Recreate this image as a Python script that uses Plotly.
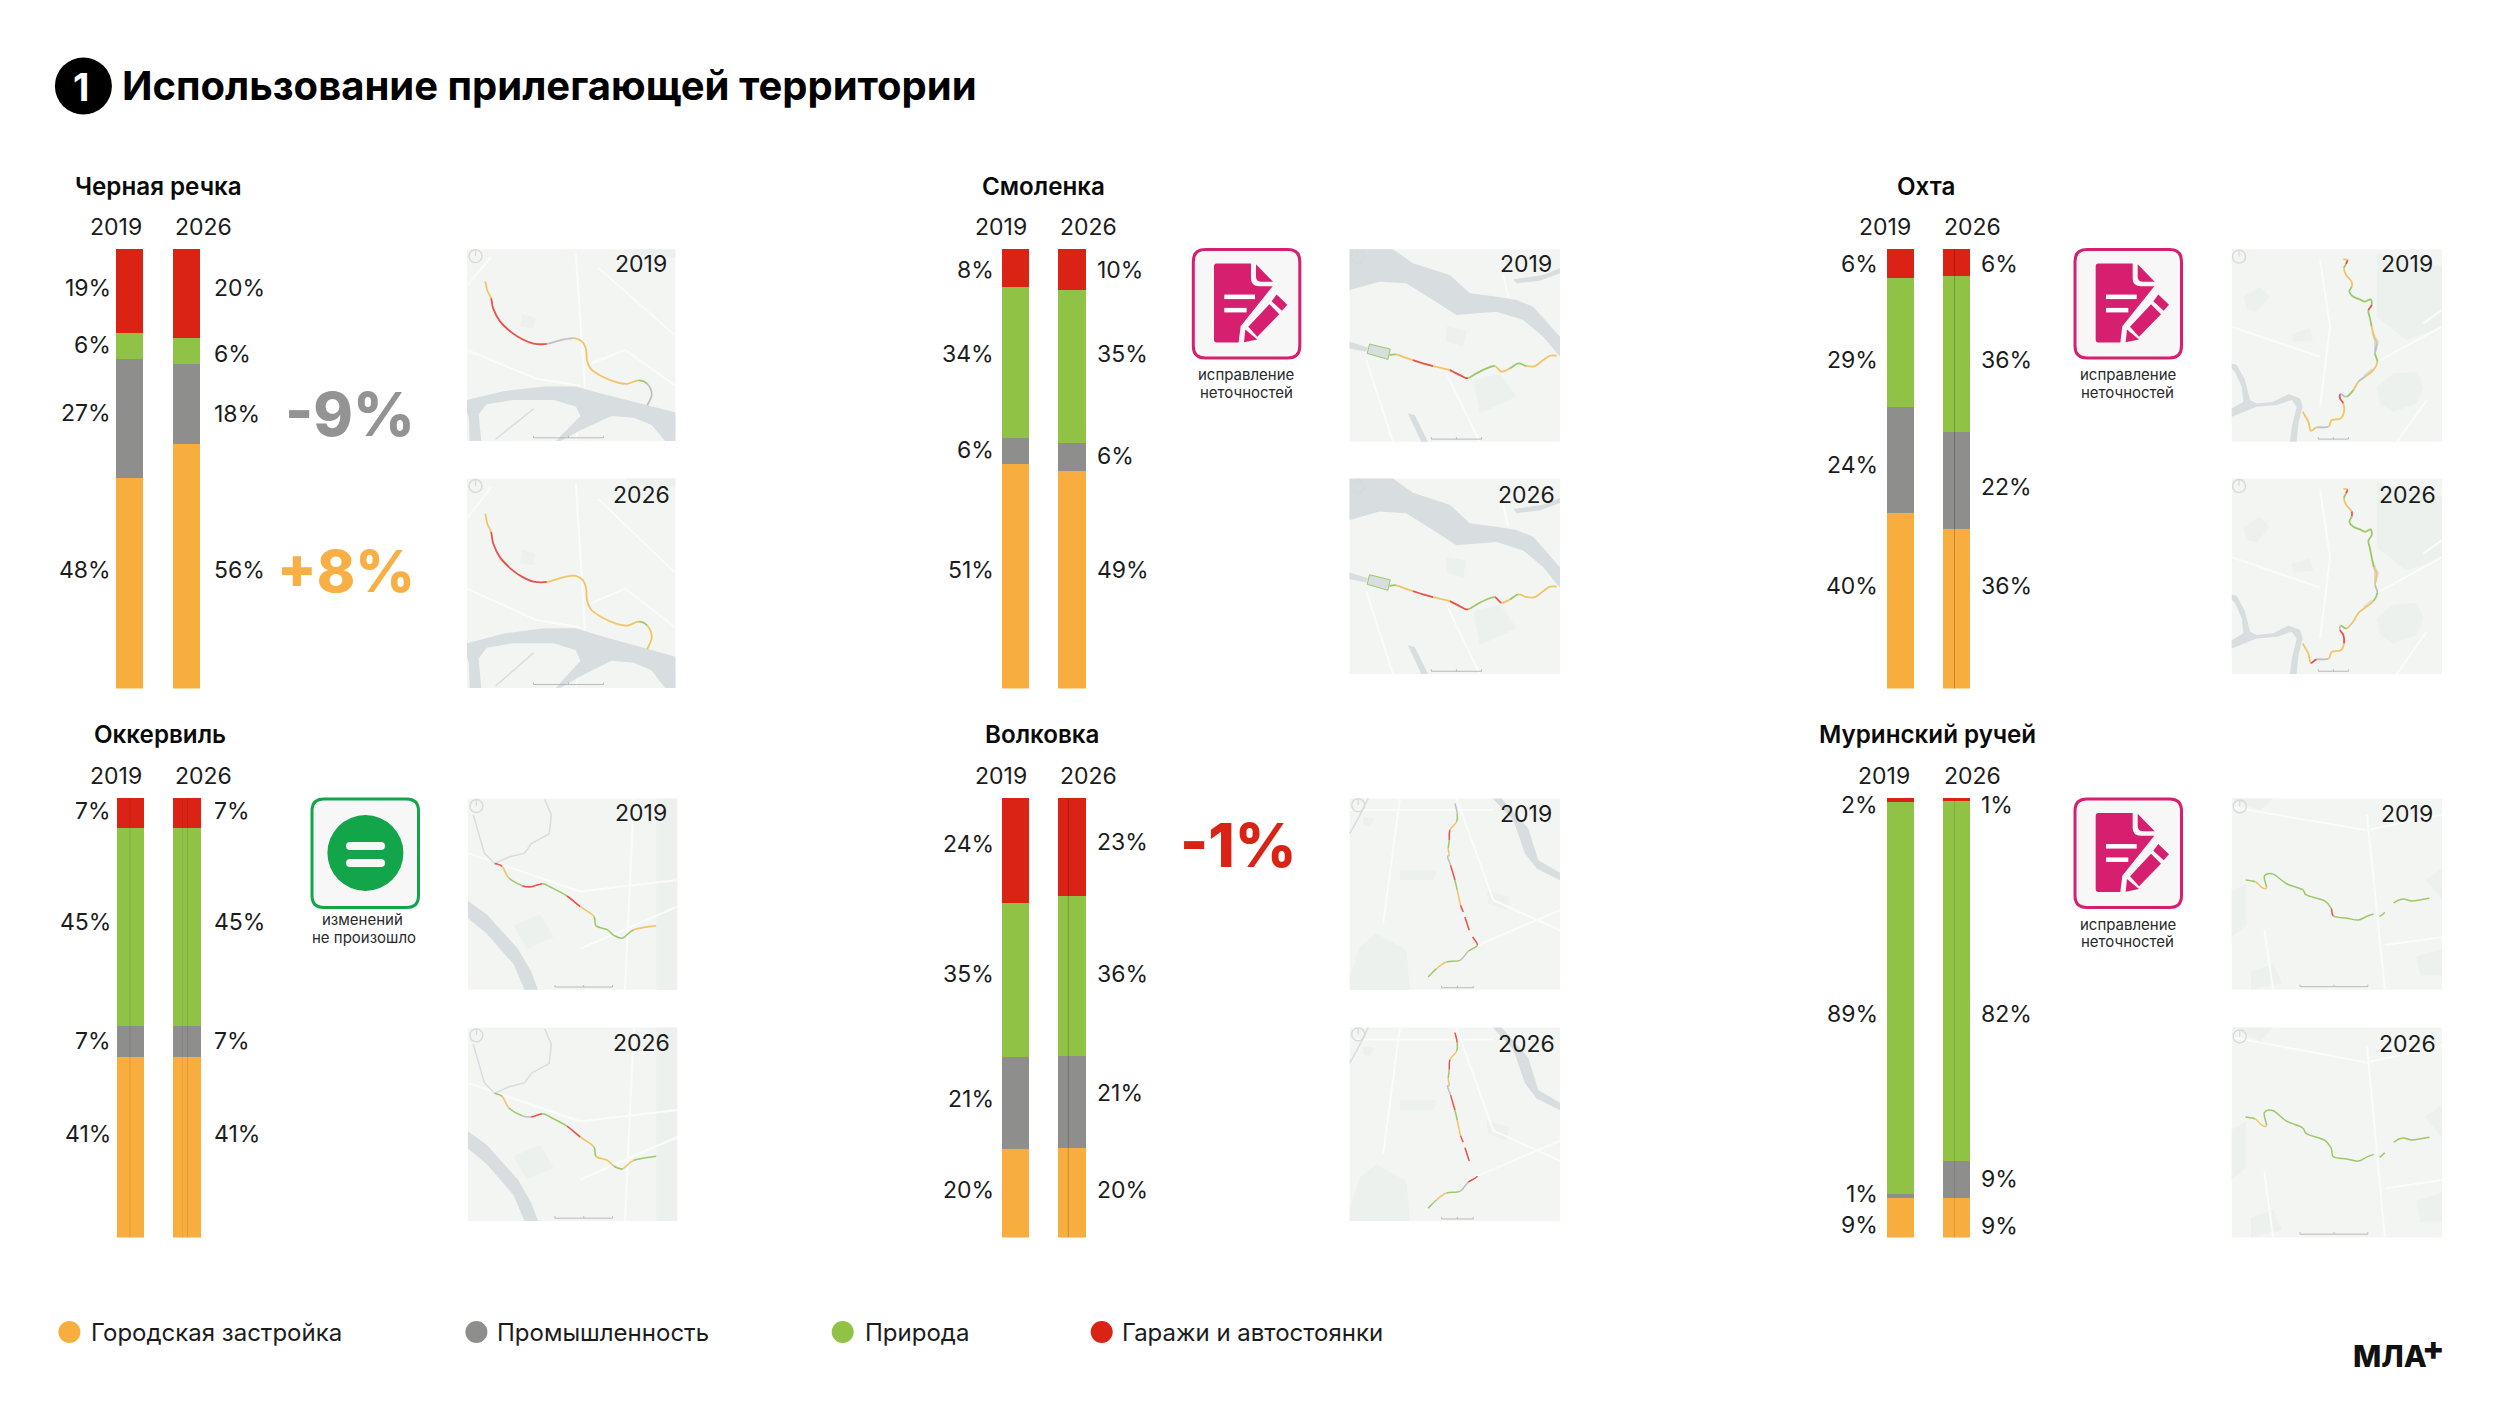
import plotly.graph_objects as go

# ---------- data ----------
CATEGORIES = ["Городская застройка", "Промышленность", "Природа", "Гаражи и автостоянки"]
YEARS = ["2019", "2026"]
RIVERS = ["Черная речка", "Смоленка", "Охта", "Оккервиль", "Волковка", "Муринский ручей"]

# shares of each bar, bottom to top: built-up, industry, nature, garages
CHERNAYA_2019 = [48, 27, 6, 19]
CHERNAYA_2026 = [55.6, 18.2, 6, 20.2]
SMOLENKA_2019 = [51.1, 5.9, 34.3, 8.7]
SMOLENKA_2026 = [49.6, 6.2, 34.8, 9.4]
OKHTA_2019 = [40, 24.1, 29.3, 6.6]
OKHTA_2026 = [36.3, 22, 35.5, 6.2]
OKKERVIL_2019 = [41, 7.1, 45.1, 6.8]
OKKERVIL_2026 = [41, 7.1, 45.1, 6.8]
VOLKOVKA_2019 = [20.1, 21, 35.1, 23.8]
VOLKOVKA_2026 = [20.3, 21.1, 36.4, 22.2]
MURINO_2019 = [9, 0.9, 89.2, 0.9]
MURINO_2026 = [8.9, 8.6, 81.8, 0.7]

# printed percentages, same order
CHERNAYA_LABELS_2019 = [48, 27, 6, 19]
CHERNAYA_LABELS_2026 = [56, 18, 6, 20]
SMOLENKA_LABELS_2019 = [51, 6, 34, 8]
SMOLENKA_LABELS_2026 = [49, 6, 35, 10]
OKHTA_LABELS_2019 = [40, 24, 29, 6]
OKHTA_LABELS_2026 = [36, 22, 36, 6]
OKKERVIL_LABELS_2019 = [41, 7, 45, 7]
OKKERVIL_LABELS_2026 = [41, 7, 45, 7]
VOLKOVKA_LABELS_2019 = [20, 21, 35, 24]
VOLKOVKA_LABELS_2026 = [20, 21, 36, 23]
MURINO_LABELS_2019 = [9, 1, 89, 2]
MURINO_LABELS_2026 = [9, 9, 82, 1]

ORANGE, GRAY, GREEN, RED = "#F7AE3F", "#8E8E8C", "#8FC245", "#DA2215"
COLORS = [ORANGE, GRAY, GREEN, RED]
INK = "#1c1c1c"
FONT = "Inter"
W, H = 2500, 1406

# ---------- page geometry (pixels) ----------
Y_TOP = (249, 798)
Y_BOT = (688.5, 1237.5)
LAYOUT = [
    dict(name=RIVERS[0], v=(CHERNAYA_2019, CHERNAYA_2026), l=(CHERNAYA_LABELS_2019, CHERNAYA_LABELS_2026), row=0,
         c=(129.5, 186.4), tx=158.7, yx=(116, 203), lx=(108.5, 213.4),
         ly=((569.6, 413, 344.6, 287.5), (569.6, 413.6, 353.6, 287.5))),
    dict(name=RIVERS[1], v=(SMOLENKA_2019, SMOLENKA_2026), l=(SMOLENKA_LABELS_2019, SMOLENKA_LABELS_2026), row=0,
         c=(1015.2, 1072), tx=1043, yx=(1001, 1088), lx=(991.5, 1095.5),
         ly=((569.6, 450, 354, 270), (569.6, 456, 354, 270))),
    dict(name=RIVERS[2], v=(OKHTA_2019, OKHTA_2026), l=(OKHTA_LABELS_2019, OKHTA_LABELS_2026), row=0,
         c=(1900.5, 1956.3), tx=1926.3, yx=(1885.3, 1972.5), lx=(1875.9, 1980.4),
         ly=((585.7, 465, 359.6, 263.6), (585.7, 486.8, 359.6, 263.6))),
    dict(name=RIVERS[3], v=(OKKERVIL_2019, OKKERVIL_2026), l=(OKKERVIL_LABELS_2019, OKKERVIL_LABELS_2026), row=1,
         c=(130.3, 187), tx=159.6, yx=(116, 203), lx=(109.4, 213.4),
         ly=((1133.6, 1041, 922.3, 811.4), (1133.6, 1041, 922.3, 811.4))),
    dict(name=RIVERS[4], v=(VOLKOVKA_2019, VOLKOVKA_2026), l=(VOLKOVKA_LABELS_2019, VOLKOVKA_LABELS_2026), row=1,
         c=(1015.2, 1072), tx=1042.4, yx=(1001, 1088), lx=(991.5, 1095.5),
         ly=((1189.5, 1099, 973.6, 844.3), (1189.5, 1093.4, 973.6, 842.4))),
    dict(name=RIVERS[5], v=(MURINO_2019, MURINO_2026), l=(MURINO_LABELS_2019, MURINO_LABELS_2026), row=1,
         c=(1900.5, 1956.8), tx=1927, yx=(1883.7, 1972.5), lx=(1875.9, 1980),
         ly=((1225.4, 1194, 1013.8, 804.5), (1226, 1179, 1013.8, 804.5))),
]

px = lambda v: v / W
py = lambda v: 1 - v / H

shapes, notes = [], []


def text(x, y, s, size=23, color=INK, anchor="center", weight=400):
    if anchor == "right":
        x += 3
    notes.append(dict(x=px(x), y=py(y), xref="paper", yref="paper", text=s, showarrow=False,
                      xanchor=anchor, yanchor="middle", borderpad=0,
                      font=dict(family=FONT, size=size, color=color, weight=weight)))


def poly_path(pts, close=True):
    d = "M " + " L ".join(f"{px(x):.5f},{py(y):.5f}" for x, y in pts)
    return d + (" Z" if close else "")


def add_poly(pts, fill, line=None, lw=0):
    shapes.append(dict(type="path", xref="paper", yref="paper", path=poly_path(pts), fillcolor=fill,
                       line=dict(color=line or "rgba(0,0,0,0)", width=lw)))


def add_line(pts, color, lw):
    shapes.append(dict(type="path", xref="paper", yref="paper", path=poly_path(pts, False),
                       line=dict(color=color, width=lw)))


def add_circle(cx, cy, r, fill="rgba(0,0,0,0)", line=None, lw=0):
    shapes.append(dict(type="circle", xref="paper", yref="paper", x0=px(cx - r), x1=px(cx + r),
                       y0=py(cy + r), y1=py(cy - r), fillcolor=fill,
                       line=dict(color=line or "rgba(0,0,0,0)", width=lw)))


def raw_path(cmds, fill, line=None, lw=0):
    """cmds: list of (letter, x1,y1, ...) in pixels."""
    out = []
    for c in cmds:
        xy = c[1:]
        coords = " ".join(f"{px(xy[i]):.5f},{py(xy[i + 1]):.5f}" for i in range(0, len(xy), 2))
        out.append(f"{c[0]} {coords}")
    shapes.append(dict(type="path", xref="paper", yref="paper", path=" ".join(out) + " Z", fillcolor=fill,
                       line=dict(color=line or "rgba(0,0,0,0)", width=lw)))


def rrect(x0, y0, x1, y1, r, fill, line=None, lw=0):
    raw_path([("M", x0 + r, y0), ("L", x1 - r, y0), ("Q", x1, y0, x1, y0 + r), ("L", x1, y1 - r),
              ("Q", x1, y1, x1 - r, y1), ("L", x0 + r, y1), ("Q", x0, y1, x0, y1 - r), ("L", x0, y0 + r),
              ("Q", x0, y0, x0 + r, y0)], fill, line, lw)


# ---------- maps ----------
LINE_COL = dict(o="#F0C566", r="#EC5048", g="#9CC868", s="#BCC0C2")
LAND = "#F3F5F3"
WATER = "#D8DDDF"
PATCH = "#EDF1ED"
ROAD = "#FAFBFA"

MAP_SOURCES = {
    "chernaya": dict(
        src=(1046, 1513, 278, 815),
        water=[[(1046, 700), (1130, 675), (1220, 662), (1290, 662), (1340, 680), (1420, 705), (1513, 735), (1513, 815),
                (1490, 815), (1460, 770), (1420, 750), (1370, 745), (1300, 785), (1255, 815), (1245, 815), (1300, 745),
                (1290, 718), (1240, 700), (1150, 700), (1090, 712), (1072, 740), (1078, 815), (1052, 815), (1050, 750),
                (1046, 735)]],
        patches=[[(1170, 460), (1200, 470), (1195, 500), (1165, 495)], [(1400, 278), (1513, 278), (1513, 300), (1420, 295)]],
        roads=[[(1290, 290), (1310, 660), (1290, 815)], [(1046, 560), (1200, 640), (1300, 660)],
               [(1340, 330), (1513, 520)], [(1100, 300), (1046, 380)], [(1513, 660), (1400, 560), (1320, 600)]],
        thin=[[(1195, 725), (1110, 810)]],
        river=[(1087, 368), (1092, 395), (1100, 415), (1105, 445), (1120, 480), (1145, 510), (1170, 530), (1195, 542),
               (1225, 543), (1255, 533), (1285, 527), (1305, 538), (1313, 560), (1315, 590), (1325, 615), (1350, 635),
               (1380, 650), (1405, 655), (1430, 645), (1450, 655), (1460, 685), (1450, 715)],
        c2019="oorrrrrrssoooooooogssoo",
        c2026="oorrrrrroooooooooogooso",
        bar=(1195, 1352, 806), clock=(1065, 297), lw=1.8),
    "smolenka": dict(
        src=(510, 1140, 28, 605),
        water=[[(510, 28), (640, 28), (700, 70), (810, 105), (870, 160), (950, 170), (1010, 180), (1060, 200), (1140, 290),
                (1140, 348), (1135, 345), (1090, 290), (1030, 240), (950, 215), (830, 225), (760, 180), (680, 130),
                (600, 125), (510, 150)],
               [(510, 305), (565, 322), (560, 335), (510, 325)],
               [(1000, 118), (1090, 105), (1140, 85), (1140, 100), (1080, 122), (1010, 130)],
               [(685, 520), (705, 525), (745, 605), (725, 605)]],
        patches=[[(800, 260), (860, 270), (850, 320), (800, 305)], [(880, 420), (960, 400), (1010, 470), (900, 520)]],
        roads=[[(640, 28), (650, 125)], [(560, 360), (640, 605)], [(800, 400), (900, 605)], [(970, 105), (985, 170)]],
        thin=[],
        box=[(570, 312), (632, 327), (625, 358), (563, 340)],
        river=[(630, 345), (650, 343), (675, 352), (700, 360), (730, 370), (760, 378), (785, 384), (810, 390), (850, 410),
               (865, 414), (890, 400), (920, 385), (945, 378), (965, 395), (990, 385), (1015, 370), (1040, 378),
               (1065, 378), (1090, 360), (1110, 347), (1130, 347)],
        c2019="goorroorrgggooggoooo",
        c2026="goorroorrgggrogoooo",
        bar=(755, 905, 597), clock=(535, 50), lw=1.8),
    "okhta": dict(
        src=(35, 666, 28, 605),
        water=[[(35, 370), (50, 375), (75, 420), (90, 480), (110, 490), (160, 485), (205, 462), (240, 475), (248, 500),
                (235, 550), (230, 605), (210, 605), (215, 560), (230, 500), (215, 480), (170, 495), (110, 500), (60, 520),
                (35, 530), (35, 505), (70, 485), (65, 440), (45, 395), (35, 385)],
               [(455, 262), (468, 290), (477, 305), (470, 335), (462, 330), (462, 300), (455, 280)],
               [(462, 390), (432, 412), (430, 405), (455, 385)]],
        patches=[[(470, 40), (666, 80), (666, 260), (560, 300), (470, 230)],
                 [(470, 440), (520, 400), (590, 395), (610, 440), (590, 490), (520, 515), (480, 490)],
                 [(70, 170), (120, 140), (150, 170), (110, 215), (80, 210)],
                 [(215, 280), (270, 265), (280, 300), (220, 305)]],
        roads=[[(300, 60), (330, 260), (300, 500)], [(35, 260), (300, 350)], [(480, 360), (666, 260)],
               [(610, 250), (666, 210)], [(530, 605), (620, 480)]],
        thin=[],
        river=[(370, 58), (382, 60), (378, 72), (372, 85), (378, 105), (395, 125), (395, 140), (388, 155), (400, 170),
               (420, 178), (435, 185), (452, 178), (455, 195), (445, 212), (450, 235), (455, 260), (462, 290), (470, 310),
               (465, 340), (472, 365), (460, 390), (435, 410), (415, 425), (400, 450), (380, 470), (362, 462), (360, 475),
               (370, 490), (372, 515), (362, 535), (335, 540), (325, 560), (290, 562), (272, 572), (265, 545), (248, 515)],
        c2019="orgoooggggggrggoosgoosogsrroooosoooro",
        c2026="orgoorggggggggggoosgoooogsrrooosrooro",
        bar=(295, 385, 597), clock=(57, 50), lw=1.8),
    "okkervil": dict(
        src=(1048, 1517, 257, 757),
        water=[[(1048, 525), (1090, 560), (1160, 650), (1190, 710), (1205, 757), (1175, 757), (1150, 690), (1090, 610), (1048, 570)]],
        patches=[[(1470, 257), (1517, 257), (1517, 757), (1470, 757)], [(1150, 590), (1210, 560), (1240, 620), (1180, 650)]],
        roads=[[(1420, 257), (1400, 757)], [(1048, 400), (1300, 500), (1517, 470)], [(1300, 650), (1517, 540)]],
        thin=[[(1060, 300), (1085, 400), (1108, 427), (1140, 410), (1175, 400), (1190, 375), (1230, 350), (1235, 300), (1220, 260)]],
        river=[(1108, 427), (1125, 435), (1140, 465), (1170, 485), (1190, 488), (1215, 480), (1235, 490), (1270, 512),
               (1300, 540), (1330, 565), (1335, 590), (1360, 600), (1375, 615), (1395, 622), (1420, 600), (1470, 590)],
        c2019="rogrrggrogggggo",
        c2026="gogsrggrogoogog",
        bar=(1243, 1372, 750), clock=(1067, 277), lw=1.6),
    "volkovka": dict(
        src=(29, 660, 25, 598),
        water=[[(458, 25), (485, 25), (565, 115), (595, 210), (660, 248), (660, 270), (590, 235), (555, 190), (520, 90)]],
        patches=[[(30, 560), (60, 470), (110, 430), (200, 480), (210, 598), (30, 598)],
                 [(440, 300), (510, 320), (500, 360), (445, 340)], [(70, 80), (105, 85), (90, 110), (70, 105)],
                 [(180, 240), (290, 240), (280, 270), (180, 270)]],
        roads=[[(350, 25), (460, 330), (660, 420)], [(130, 400), (180, 25)], [(30, 60), (460, 60)], [(400, 470), (660, 360)]],
        thin=[[(85, 25), (55, 85), (30, 130)]],
        river=[(345, 40), (352, 70), (350, 95), (330, 120), (328, 150), (325, 175), (328, 195), (323, 200), (332, 225),
               (345, 270), (352, 300), (362, 345), (370, 365), (375, 380), (388, 420), (398, 440), (412, 465), (385, 483),
               (360, 510), (320, 515), (290, 535), (265, 560)],
        c2019="sgorgossrgor-r-rgsgog",
        c2026="rgorgossrgor-r--rsgog",
        bar=(305, 400, 592), clock=(55, 45), lw=1.5),
    "murino": dict(
        src=(967, 1438, 257, 757),
        water=[],
        patches=[[(967, 500), (1000, 480), (1000, 590), (967, 620)], [(1010, 710), (1060, 690), (1080, 740), (1010, 757)],
                 [(1400, 470), (1438, 440), (1438, 520)], [(1380, 670), (1438, 650), (1438, 720), (1390, 720)],
                 [(967, 257), (1060, 257), (1030, 290)]],
        roads=[[(1270, 300), (1310, 757)], [(967, 280), (1270, 340), (1438, 300)], [(1040, 600), (1060, 757)], [(1310, 640), (1438, 620)]],
        thin=[],
        river=[(998, 470), (1020, 475), (1035, 490), (1045, 490), (1040, 460), (1060, 455), (1090, 480), (1125, 495),
               (1135, 510), (1175, 525), (1190, 545), (1195, 565), (1225, 570), (1250, 575), (1270, 565), (1285, 560),
               (1298, 565), (1310, 555), (1330, 530), (1350, 520), (1370, 525), (1390, 522), (1410, 518)],
        c2019="googggggggrgggg-g-ggggo",
        c2026="googggggggggggg-g-ggggo",
        bar=(1120, 1272, 749), clock=(985, 278), lw=1.5),
}

MAP_RECTS = [
    ("chernaya", (467, 675.4), ((249.3, 441), (478.6, 688)), ((665, 264, "right"), (667.6, 494.6, "right"))),
    ("smolenka", (1349.5, 1560), ((249.3, 441.8), (478.6, 674)), ((1526, 264, "center"), (1526, 494.6, "center"))),
    ("okhta", (2231.7, 2442), ((249.3, 441.8), (478.6, 674)), ((2407, 264, "center"), (2407, 494.6, "center"))),
    ("okkervil", (467.9, 677.2), ((798.4, 989.7), (1027.6, 1220.9)), ((641, 813, "center"), (641.7, 1043.3, "center"))),
    ("volkovka", (1349.5, 1560), ((798.4, 989.7), (1027.6, 1221)), ((1526, 813.7, "center"), (1526, 1044.4, "center"))),
    ("murino", (2231.7, 2442), ((798.4, 989.7), (1027.6, 1237.5)), ((2407, 813.7, "center"), (2407, 1044.4, "center"))),
]


def draw_map(key, xr, yr, colors):
    m = MAP_SOURCES[key]
    sx0, sx1, sy0, sy1 = m["src"]
    tx = lambda x: xr[0] + (x - sx0) / (sx1 - sx0) * (xr[1] - xr[0])
    ty = lambda y: yr[0] + (y - sy0) / (sy1 - sy0) * (yr[1] - yr[0])
    T = lambda pts: [(tx(a), ty(b)) for a, b in pts]
    add_poly([(xr[0], yr[0]), (xr[1], yr[0]), (xr[1], yr[1]), (xr[0], yr[1])], LAND)
    for p in m["patches"]:
        add_poly(T(p), PATCH)
    for r in m["roads"]:
        add_line(T(r), ROAD, 2)
    for p in m["water"]:
        add_poly(T(p), WATER)
    for t in m["thin"]:
        add_line(T(t), WATER, 1.5)
    if "box" in m:
        add_poly(T(m["box"]), WATER, LINE_COL["g"], 1)
    # river as colored smooth runs
    pts = T(m["river"])
    n = len(pts)
    i = 0
    while i < n - 1:
        c = colors[i] if i < len(colors) else colors[-1]
        j = i
        while j < n - 1 and (colors[j] if j < len(colors) else colors[-1]) == c:
            j += 1
        if c != "-":
            cmds = [f"M {px(pts[i][0]):.5f},{py(pts[i][1]):.5f}"]
            for k in range(i, j):
                p0 = pts[max(k - 1, 0)]
                p1 = pts[k]
                p2 = pts[k + 1]
                p3 = pts[min(k + 2, n - 1)]
                c1 = (p1[0] + (p2[0] - p0[0]) / 6, p1[1] + (p2[1] - p0[1]) / 6)
                c2 = (p2[0] - (p3[0] - p1[0]) / 6, p2[1] - (p3[1] - p1[1]) / 6)
                cmds.append(f"C {px(c1[0]):.5f},{py(c1[1]):.5f} {px(c2[0]):.5f},{py(c2[1]):.5f} {px(p2[0]):.5f},{py(p2[1]):.5f}")
            shapes.append(dict(type="path", xref="paper", yref="paper", path=" ".join(cmds),
                               line=dict(color=LINE_COL[c], width=m["lw"])))
        i = j
    # scale bar
    b0, b1, by = m["bar"]
    add_line([(tx(b0), ty(by)), (tx(b1), ty(by))], "#A9ADAE", 0.8)
    for bx in (b0, (b0 + b1) / 2, b1):
        add_line([(tx(bx), ty(by) - 2), (tx(bx), ty(by))], "#A9ADAE", 0.8)
    # clock mark
    cx, cy = m["clock"]
    add_circle(tx(cx), ty(cy), 6.5, line="#D8DADA", lw=1.4)
    add_line([(tx(cx), ty(cy) - 6), (tx(cx), ty(cy))], "#D8DADA", 1.2)


for key, xr, (yr19, yr26), (l19, l26) in MAP_RECTS:
    draw_map(key, xr, yr19, MAP_SOURCES[key]["c2019"])
    draw_map(key, xr, yr26, MAP_SOURCES[key]["c2026"])
    text(l19[0], l19[1], YEARS[0], anchor=l19[2])
    text(l26[0], l26[1], YEARS[1], anchor=l26[2])

# ---------- bars ----------
fig = go.Figure()
axes = {}
for idx, p in enumerate(LAYOUT, start=1):
    c1, c2 = p["c"]
    d = c2 - c1
    top, bot = Y_TOP[p["row"]], Y_BOT[p["row"]]
    xname = "x" if idx == 1 else f"x{idx}"
    yname = "y" if idx == 1 else f"y{idx}"
    axes["xaxis" if idx == 1 else f"xaxis{idx}"] = dict(domain=[px(c1 - d / 2), px(c2 + d / 2)], range=[-0.5, 1.5],
                                                       visible=False, fixedrange=True)
    axes["yaxis" if idx == 1 else f"yaxis{idx}"] = dict(domain=[py(bot), py(top)], range=[0, 100],
                                                       visible=False, fixedrange=True)
    for s, cat in enumerate(CATEGORIES):
        fig.add_trace(go.Bar(x=[0, 1], y=[p["v"][0][s], p["v"][1][s]], name=cat, width=0.485,
                             marker=dict(color=COLORS[s], line=dict(width=0)), xaxis=xname, yaxis=yname,
                             showlegend=False, hovertemplate=cat + ": %{y}%<extra>" + p["name"] + "</extra>"))
    ty = top - 62.5 if p["row"] == 0 else top - 63.5
    text(p["tx"], ty, p["name"], size=24.2, color="#0a0a0a", weight=600)
    text(p["yx"][0], top - 22.5, YEARS[0])
    text(p["yx"][1], top - 22.5, YEARS[1])
    for s in range(4):
        text(p["lx"][0], p["ly"][0][s], f"{p['l'][0][s]}%", anchor="right")
        text(p["lx"][1], p["ly"][1][s], f"{p['l'][1][s]}%", anchor="left")

# hairlines visible inside some bars
for x, y0, y1, a in [(1954.5, 249, 688.5, 0.22), (1068.3, 798, 1237.5, 0.2), (130, 798, 1237.5, 0.1),
                     (187.5, 798, 1237.5, 0.1), (182.5, 798, 1237.5, 0.06), (1954.5, 798, 1237.5, 0.1)]:
    add_line([(x, y0), (x, y1)], f"rgba(0,0,0,{a})", 1)

# ---------- big change figures ----------
text(413, 414, "-9%", size=60, color="#939393", anchor="right", weight=800)
text(413, 570.6, "+8%", size=58, color="#F8B044", anchor="right", weight=800)
text(1295, 844.7, "-1%", size=60, color=RED, anchor="right", weight=800)

# ---------- icons ----------
PINK = "#D6206F"
ICON_GREEN = "#12A549"
ICON_BG = "#F7F7F7"


def pink_icon(x0, y0, cx, cap_y):
    x1, y1 = x0 + 106.5, y0 + 108.5
    rrect(x0, y0, x1, y1, 12, ICON_BG, PINK, 3)
    zx = lambda v: x0 + (v - 40) / 3
    zy = lambda v: y0 + (v - 28) / 3
    T = lambda *a: tuple(zx(v) if i % 2 == 0 else zy(v) for i, v in enumerate(a))
    raw_path([("M", *T(110, 70)), ("L", *T(213, 70)), ("L", *T(213, 115)), ("Q", *T(213, 138, 238, 138)),
              ("L", *T(278, 138)), ("L", *T(182, 258)), ("L", *T(176, 307)), ("L", *T(110, 307)),
              ("Q", *T(102, 307, 102, 297)), ("L", *T(102, 80)), ("Q", *T(102, 70, 110, 70))], PINK)
    raw_path([("M", *T(228, 72)), ("L", *T(279, 125)), ("L", *T(245, 125)), ("Q", *T(228, 125, 228, 108))], PINK)
    add_poly([T(290, 163), T(322, 194), T(306, 212), T(275, 183)], PINK)
    add_poly([T(268, 192), T(298, 222), T(232, 290), T(205, 260)], PINK)
    add_poly([T(196, 268), T(232, 298), T(192, 306)], PINK)
    for a, b, yy in [(133, 225, 170), (133, 200, 210)]:
        add_line([(zx(a), zy(yy)), (zx(b), zy(yy))], "#FFFFFF", 4.5)
    text(cx, cap_y, "исправление", size=15, color="#2a2a2a")
    text(cx, cap_y + 18, "неточностей", size=15, color="#2a2a2a")


pink_icon(1193.3, 249.5, 1246, 374)
pink_icon(2075, 249.5, 2127.7, 374)
pink_icon(2075, 799, 2127.7, 924)

rrect(312, 799, 418.5, 907.5, 12, ICON_BG, ICON_GREEN, 3)
add_circle(365.4, 853, 38, fill=ICON_GREEN)
rrect(346, 842, 385, 850, 4, "#F7F7F7")
rrect(346, 859, 385, 867, 4, "#F7F7F7")
text(362, 919.7, "изменений", size=15, color="#2a2a2a")
text(364, 938, "не произошло", size=15, color="#2a2a2a")

# ---------- header, legend, logo ----------
add_circle(83.4, 86, 28.5, fill="#000000")
text(81.5, 86.5, "1", size=38, color="#FFFFFF", weight=700)
text(121, 86, "Использование прилегающей территории", size=40, color="#000000", anchor="left", weight=700)

LEGEND_DOT_X = [69.4, 476.4, 842.7, 1101.7]
LEGEND_TEXT_X = [90, 496, 864, 1121]
for dot, tx_, cat, col in zip(LEGEND_DOT_X, LEGEND_TEXT_X, CATEGORIES, COLORS):
    add_circle(dot, 1332, 11, fill=col)
    text(tx_, 1332.5, cat, size=24, color=INK, anchor="left")

text(2352, 1356, "МЛА", size=30, color="#111111", anchor="left", weight=800)
text(2433, 1348, "+", size=33, color="#111111", weight=800)

fig.update_layout(width=W, height=H, margin=dict(l=0, r=0, t=0, b=0), autosize=False, barmode="stack", bargap=0,
                  paper_bgcolor="#FFFFFF", plot_bgcolor="rgba(0,0,0,0)", font=dict(family=FONT),
                  shapes=shapes, annotations=notes, showlegend=False, **axes)
fig.write_html("out.html", config=dict(displayModeBar=False),
               post_script="document.body.style.margin='0';document.body.style.overflow='hidden';")
